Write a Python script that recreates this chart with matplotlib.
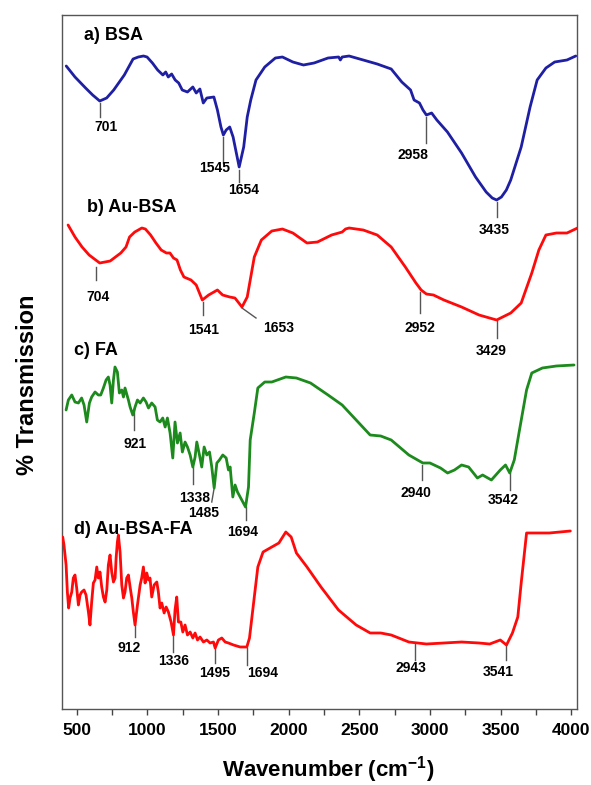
import matplotlib
matplotlib.use("Agg")
import matplotlib.pyplot as plt
from matplotlib.ticker import MultipleLocator

plt.rcParams['font.family'] = ['Liberation Sans', 'DejaVu Sans']
plt.rcParams['mathtext.fontset'] = 'custom'
plt.rcParams['mathtext.rm'] = 'Liberation Sans'
plt.rcParams['mathtext.bf'] = 'Liberation Sans:bold'

# ---------------- data (wavenumber cm-1, offset transmission a.u.) ----------------
bsa_x = [425, 487, 562, 612, 662, 711, 761, 836, 898, 935, 972, 997, 1035, 1072, 1109, 1129,
         1147, 1171, 1196, 1221, 1246, 1283, 1321, 1345, 1371, 1395, 1420, 1470, 1495, 1520,
         1537, 1557, 1582, 1606, 1649, 1681, 1706, 1731, 1768, 1830, 1905, 1955, 2029, 2104,
         2179, 2278, 2353, 2365, 2378, 2427, 2527, 2626, 2725, 2800, 2862, 2887, 2925, 2950,
         2974, 3011, 3048, 3123, 3223, 3322, 3397, 3440, 3471, 3505, 3540, 3571, 3645, 3708,
         3758, 3820, 3882, 3969, 4031]
bsa_y = [643, 632, 621, 614, 608, 611, 619, 634, 650, 652, 653, 652, 646, 639, 634, 637,
         632, 635, 629, 626, 619, 617, 622, 616, 620, 606, 611, 612, 599, 582,
         574, 579, 582, 572, 542, 562, 592, 609, 629, 642, 651, 652, 647, 644,
         646, 651, 652, 649, 652, 653, 649, 645, 640, 627, 619, 609, 606, 599,
         594, 596, 589, 577, 556, 532, 517, 511, 509, 512, 519, 529, 562, 602,
         629, 641, 647, 649, 653]

aubsa_x = [438, 487, 537, 587, 662, 736, 811, 848, 873, 910, 960, 985, 1022, 1060, 1097, 1134,
           1159, 1184, 1209, 1233, 1258, 1308, 1345, 1388, 1433, 1495, 1532, 1582, 1619, 1669,
           1706, 1731, 1756, 1806, 1880, 1955, 2029, 2129, 2203, 2303, 2378, 2402, 2427, 2527,
           2626, 2725, 2825, 2900, 2937, 2974, 3024, 3098, 3223, 3347, 3471, 3571, 3645, 3720,
           3770, 3820, 3894, 3969, 4044]
aubsa_y = [484, 472, 462, 454, 446, 448, 456, 462, 472, 477, 481, 480, 474, 466, 459, 456,
           456, 451, 449, 439, 432, 429, 424, 409, 414, 419, 414, 412, 411, 402,
           412, 432, 452, 469, 478, 480, 476, 466, 467, 474, 477, 480, 481, 479,
           474, 462, 442, 426, 419, 415, 414, 409, 402, 394, 389, 396, 406, 436,
           459, 474, 476, 476, 481]

fa_x = [424, 440, 464, 487, 511, 534, 551, 570, 589, 605, 629, 652, 669, 688, 707, 723,
        735, 747, 759, 770, 787, 801, 818, 830, 841, 865, 877, 896, 912, 929, 948, 971,
        990, 1007, 1030, 1054, 1070, 1089, 1108, 1125, 1141, 1160, 1179, 1195, 1212, 1231,
        1247, 1266, 1283, 1302, 1321, 1337, 1349, 1368, 1384, 1401, 1420, 1439, 1455, 1472,
        1491, 1509, 1533, 1557, 1573, 1585, 1604, 1620, 1637, 1656, 1675, 1694, 1715, 1727,
        1756, 1781, 1830, 1880, 1979, 2054, 2154, 2278,
        2378, 2477, 2576, 2651, 2725, 2850, 2949, 2999, 3074, 3124, 3173, 3223, 3273, 3335,
        3372, 3434, 3497, 3534, 3564, 3596, 3633, 3683, 3720, 3795, 3894, 4019]
fa_y = [299, 309, 314, 307, 306, 311, 304, 287, 306, 312, 317, 314, 314, 321, 329, 332,
        324, 306, 329, 342, 337, 316, 319, 312, 321, 309, 302, 294, 302, 309, 306, 311,
        307, 301, 306, 302, 289, 287, 291, 282, 291, 276, 251, 287, 266, 276,
        257, 267, 262, 254, 242, 252, 267, 254, 242, 262, 254, 257, 242, 221,
        246, 249, 254, 251, 239, 242, 212, 224, 217, 212, 207, 202, 222, 269,
        296, 321, 327, 327, 332, 331, 326, 314,
        304, 289, 274, 273, 269, 254, 246, 246, 241, 236, 239, 244, 242, 231,
        234, 229, 239, 244, 236, 249, 279, 319, 336, 341, 343, 344]

aubsafa_x = [400, 409, 424, 433, 442, 452, 464, 475, 487, 499, 511, 523, 534, 551, 565, 582,
             593, 605, 617, 629, 641, 652, 664, 676, 688, 700, 712, 723, 735, 747, 759, 771,
             778, 787, 794, 806, 818, 830, 841, 853, 865, 877, 889, 900, 912, 929, 948, 959,
             971, 983, 995, 1007, 1018, 1030, 1047, 1066, 1077, 1089, 1101, 1118, 1132, 1148,
             1167, 1184, 1195, 1207, 1219, 1236, 1250, 1266, 1283, 1302, 1321, 1337, 1354,
             1372, 1396, 1420, 1443, 1467, 1479, 1502, 1526, 1550, 1573, 1609, 1656, 1703,
             1722, 1756, 1781, 1818, 1880, 1930,
             1979, 2017, 2054, 2129, 2228, 2352, 2477, 2576, 2651, 2725, 2850, 2974, 3098,
             3223, 3347, 3422, 3497, 3541, 3583, 3621, 3645, 3683, 3720, 3844, 3993]
aubsafa_y = [172, 164, 144, 117, 101, 111, 117, 131, 134, 121, 104, 114, 117, 119, 114, 97,
             84, 107, 126, 129, 142, 131, 137, 122, 112, 107, 119, 144, 154, 137, 127, 131,
             151, 167, 174, 157, 124, 111, 117, 131, 134, 122, 111, 97, 84, 104, 124, 131,
             142, 126, 136, 129, 131, 112, 124, 127, 117, 101, 106, 96, 102, 97,
             87, 74, 99, 112, 87, 87, 77, 84, 74, 77, 71, 76, 69,
             72, 67, 69, 66, 67, 61, 69, 71, 67, 66, 64, 62, 62,
             71, 112, 142, 157, 162, 166,
             177, 172, 156, 142, 122, 99, 84, 76, 76, 74, 67, 65, 66,
             67, 66, 65, 69, 64, 76, 92, 126, 176, 176, 176, 178]

series = [
    (bsa_x, bsa_y, '#1f1fa3'),
    (aubsa_x, aubsa_y, '#ff0a0a'),
    (fa_x, fa_y, '#1c8a1c'),
    (aubsafa_x, aubsafa_y, '#ff0a0a'),
]

panel_labels = ['a) BSA', 'b) Au-BSA', 'c) FA', 'd) Au-BSA-FA']
panel_label_pos = [(550, 674), (572, 502), (483, 359), (483, 180)]

# peak annotations: text, (x0, y0) -> (x1, y1) marker line, (label x, label y)
peaks = [
    ('701', (662, 606), (662, 592), (709, 582)),
    ('1545', (1535, 572), (1535, 546), (1475, 541)),
    ('1654', (1651, 539), (1651, 527), (1679, 519)),
    ('2958', (2974, 592), (2974, 566), (2880, 554)),
    ('3435', (3471, 507), (3471, 492), (3452, 479)),
    ('704', (637, 442), (637, 429), (649, 412)),
    ('1541', (1395, 407), (1395, 394), (1395, 379)),
    ('1653', (1669, 401), (1768, 391), (1930, 381)),
    ('2952', (2932, 417), (2932, 396), (2925, 381)),
    ('3429', (3471, 389), (3471, 371), (3429, 358)),
    ('921', (905, 300), (905, 279), (910, 265)),
    ('1338', (1321, 242), (1321, 225), (1333, 211)),
    ('1485', (1472, 221), (1455, 207), (1395, 196)),
    ('1694', (1694, 202), (1694, 189), (1676, 177)),
    ('2940', (2945, 244), (2945, 229), (2900, 216)),
    ('3542', (3564, 236), (3564, 219), (3514, 209)),
    ('912', (912, 84), (912, 72), (868, 61)),
    ('1336', (1184, 74), (1184, 57), (1184, 48)),
    ('1495', (1475, 62), (1475, 46), (1475, 36)),
    ('1694', (1701, 61), (1701, 44), (1818, 36)),
    ('2943', (2895, 66), (2895, 49), (2862, 41)),
    ('3541', (3541, 64), (3541, 49), (3484, 37)),
]

xticks = [500, 1000, 1500, 2000, 2500, 3000, 3500, 4000]

# ---------------- figure ----------------
fig = plt.figure(figsize=(5.91, 7.85), dpi=100)
ax = fig.add_axes([62 / 591, 1 - 709 / 785, (577 - 62) / 591, (709 - 15) / 785])

for x, y, c in series:
    ax.plot(x, y, color=c, lw=2.0, solid_joinstyle='round', solid_capstyle='round', zorder=3)

for (txt, (lx, ly)) in zip(panel_labels, panel_label_pos):
    ax.text(lx, ly, txt, fontsize=13, fontweight='bold', ha='left', va='center')

for txt, p0, p1, lp in peaks:
    ax.plot([p0[0], p1[0]], [p0[1], p1[1]], color='#555555', lw=1.0, zorder=2)
    ax.text(lp[0], lp[1], txt, fontsize=10, fontweight='bold', ha='center', va='center')

ax.set_xlim(395, 4040)
ax.set_ylim(0, 694)
ax.set_yticks([])
ax.set_xticks(xticks)
ax.xaxis.set_minor_locator(MultipleLocator(250))
ax.tick_params(axis='x', which='both', direction='out', length=4, width=1, color='#444444')
ax.tick_params(axis='x', which='major', labelsize=12.5, pad=6)
for lbl in ax.get_xticklabels():
    lbl.set_fontweight('bold')
for s in ax.spines.values():
    s.set_color('#555555')
    s.set_linewidth(1.0)

fig.text(328 / 591, 1 - 770 / 785, r'Wavenumber (cm$^{\mathbf{-1}}$)', fontsize=16,
         fontweight='bold', ha='center', va='center')
fig.text(28 / 591, 1 - 385 / 785, '% Transmission', fontsize=17, fontweight='bold',
         rotation=90, ha='center', va='center')

fig.savefig('out.png', dpi=100)
